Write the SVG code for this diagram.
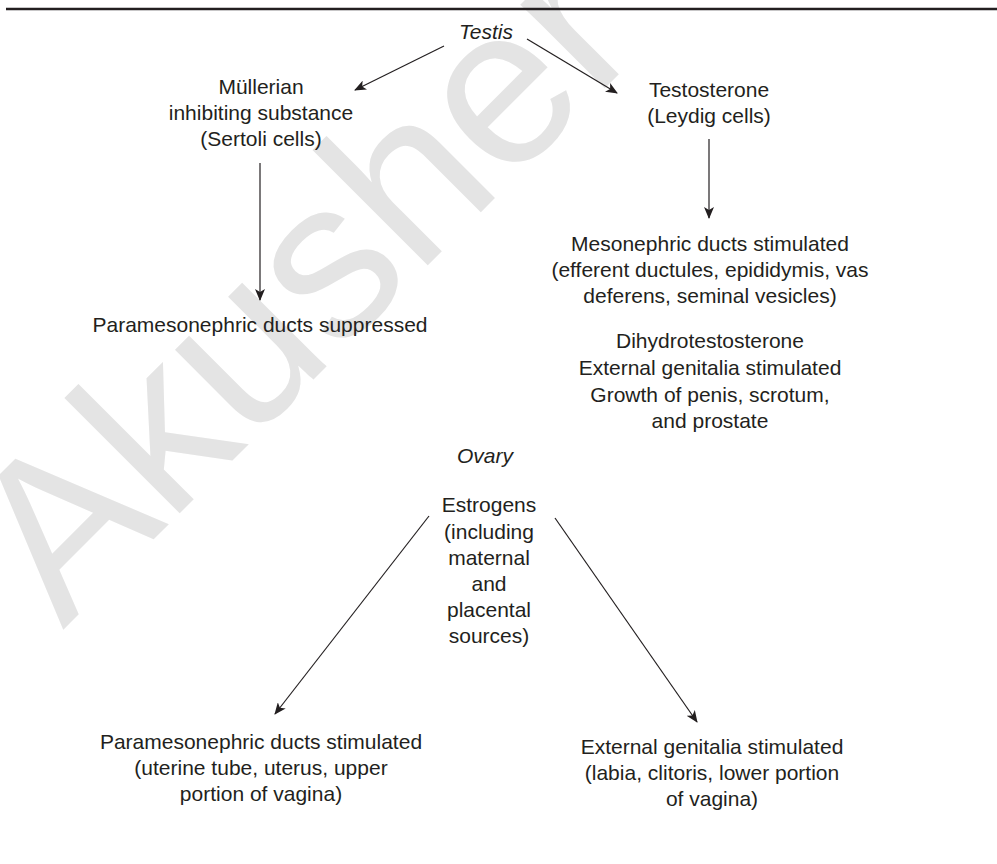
<svg xmlns="http://www.w3.org/2000/svg" width="997" height="864" viewBox="0 0 997 864">
<defs>
<style>
text{font-family:"Liberation Sans",Arial,Helvetica,sans-serif;font-size:21px;fill:#231f20;text-anchor:middle}
.it{font-style:italic}
.wm{font-size:225px;fill:#e4e4e4;text-anchor:start}
.c{stroke:#231f20;stroke-width:1.2;fill:none;marker-end:url(#ah)}
</style>
<marker id="ah" viewBox="0 0 12 10" refX="11" refY="5" markerWidth="12" markerHeight="10" markerUnits="userSpaceOnUse" orient="auto">
<path d="M0,0 L12,5 L0,10 L3,5 Z" fill="#231f20"/>
</marker>
</defs>
<rect width="997" height="864" fill="#ffffff"/>
<text class="wm" transform="translate(63,630) rotate(-45)">Akusher</text>
<line x1="6" y1="9" x2="997" y2="9" stroke="#231f20" stroke-width="2.6"/>
<g id="connectors">
<line class="c" x1="444" y1="46" x2="355" y2="90"/>
<line class="c" x1="527" y1="39" x2="617" y2="93"/>
<line class="c" x1="260" y1="163" x2="260" y2="300"/>
<line class="c" x1="709" y1="139" x2="709" y2="218"/>
<line class="c" x1="429" y1="516" x2="275" y2="714"/>
<line class="c" x1="555" y1="518" x2="697" y2="722"/>
</g>
<g id="testis"><text class="it" x="486" y="39">Testis</text></g>
<g id="mis"><text x="261" y="94">Müllerian</text><text x="261" y="120">inhibiting substance</text><text x="261" y="146">(Sertoli cells)</text></g>
<g id="testosterone"><text x="709" y="97">Testosterone</text><text x="709" y="123">(Leydig cells)</text></g>
<g id="mesonephric"><text x="710" y="251">Mesonephric ducts stimulated</text><text x="710" y="277">(efferent ductules, epididymis, vas</text><text x="710" y="303">deferens, seminal vesicles)</text></g>
<g id="dht"><text x="710" y="348">Dihydrotestosterone</text><text x="710" y="375">External genitalia stimulated</text><text x="710" y="401.5">Growth of penis, scrotum,</text><text x="710" y="428">and prostate</text></g>
<g id="suppressed"><text x="260" y="332">Paramesonephric ducts suppressed</text></g>
<g id="ovary"><text class="it" x="485" y="463">Ovary</text></g>
<g id="estrogens"><text x="489" y="512">Estrogens</text><text x="489" y="538.5">(including</text><text x="489" y="565">maternal</text><text x="489" y="591">and</text><text x="489" y="617">placental</text><text x="489" y="643">sources)</text></g>
<g id="paramesonephric-stim"><text x="261" y="749">Paramesonephric ducts stimulated</text><text x="261" y="775">(uterine tube, uterus, upper</text><text x="261" y="801">portion of vagina)</text></g>
<g id="external-stim"><text x="712" y="754">External genitalia stimulated</text><text x="712" y="780">(labia, clitoris, lower portion</text><text x="712" y="806">of vagina)</text></g>
</svg>
